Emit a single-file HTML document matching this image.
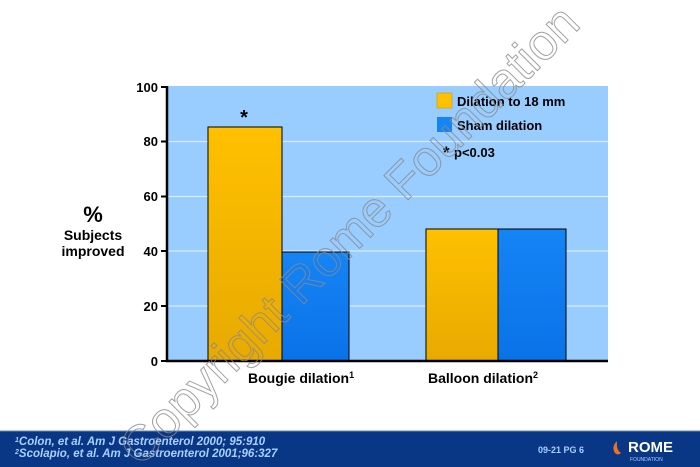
<!DOCTYPE html>
<html><head><meta charset="utf-8"><style>
body{margin:0;width:700px;height:467px;background:#fff;position:relative;overflow:hidden;font-family:"Liberation Sans",sans-serif}
.a{position:absolute}
</style></head><body>
<svg class="a" style="left:0;top:0" width="700" height="467">
<defs>
<linearGradient id="g" x1="0" y1="0" x2="0" y2="1"><stop offset="0" stop-color="#ffc000"/><stop offset="1" stop-color="#e8aa00"/></linearGradient>
<linearGradient id="b" x1="0" y1="0" x2="0" y2="1"><stop offset="0" stop-color="#1584f5"/><stop offset="1" stop-color="#0a72e8"/></linearGradient>
</defs>
<rect x="167" y="86" width="441" height="275" fill="#99ccff"/>
<g stroke="#d8ecff" stroke-width="1.2">
<line x1="167" x2="608" y1="141.5" y2="141.5"/><line x1="167" x2="608" y1="196.5" y2="196.5"/>
<line x1="167" x2="608" y1="251" y2="251"/><line x1="167" x2="608" y1="306" y2="306"/>
</g>
<g stroke="#000" stroke-width="1">
<rect x="208" y="127" width="74" height="234" fill="url(#g)"/>
<rect x="282" y="252" width="67" height="109" fill="url(#b)"/>
<rect x="426" y="229" width="72" height="132" fill="url(#g)"/>
<rect x="498" y="229" width="68" height="132" fill="url(#b)"/>
</g>
<line x1="167" y1="86" x2="167" y2="362" stroke="#000" stroke-width="2.5"/>
<line x1="166" y1="361" x2="608" y2="361" stroke="#000" stroke-width="2.5"/>
<g stroke="#000" stroke-width="2">
<line x1="161" x2="167" y1="87" y2="87"/><line x1="161" x2="167" y1="141.5" y2="141.5"/><line x1="161" x2="167" y1="196.5" y2="196.5"/><line x1="161" x2="167" y1="251" y2="251"/><line x1="161" x2="167" y1="306" y2="306"/><line x1="161" x2="167" y1="361" y2="361"/>
</g>
<g font-family="Liberation Sans" font-weight="bold" font-size="13" text-anchor="end" fill="#000">
<text x="158" y="92">100</text><text x="158" y="146">80</text><text x="158" y="201">60</text><text x="158" y="256">40</text><text x="158" y="311">20</text><text x="158" y="366">0</text>
</g>
<text x="244" y="124" font-size="20" font-weight="bold" text-anchor="middle">*</text>
<rect x="437" y="93" width="15" height="15" fill="#ffc000" stroke="#c89000" stroke-width="0.5"/>
<rect x="437" y="117" width="15" height="15" fill="#1584f5"/>
<g font-family="Liberation Sans" font-weight="bold" font-size="13" fill="#000">
<text x="457" y="106">Dilation to 18 mm</text>
<text x="457" y="130">Sham dilation</text>
<text x="443" y="158" font-size="17">*</text>
<text x="454" y="157">p&lt;0.03</text>
<text x="248" y="383" font-size="14">Bougie dilation<tspan font-size="9" dy="-5">1</tspan></text>
<text x="428" y="383" font-size="14">Balloon dilation<tspan font-size="9" dy="-5">2</tspan></text>
<text x="93" y="222" font-size="22" text-anchor="middle">%</text>
<text x="93" y="240" font-size="14" text-anchor="middle">Subjects</text>
<text x="93" y="256" font-size="14" text-anchor="middle">improved</text>
</g>
<rect x="0" y="431" width="700" height="36" fill="#0a3686"/>
<line x1="0" x2="700" y1="431" y2="431" stroke="#6a87b8" stroke-width="1"/>
<g font-family="Liberation Sans" font-style="italic" font-weight="bold" font-size="11.5" fill="#a8d0ff">
<text x="15" y="445"><tspan font-size="7" dy="-3">1</tspan><tspan dy="3">Colon, et al. Am J Gastroenterol 2000; 95:910</tspan></text>
<text x="15" y="457"><tspan font-size="7" dy="-3">2</tspan><tspan dy="3">Scolapio, et al. Am J Gastroenterol 2001;96:327</tspan></text>
</g>
<text x="538" y="453" font-family="Liberation Sans" font-weight="bold" font-size="9" fill="#a8d0ff">09-21  PG 6</text>
<path d="M617 441 q-6 6 -2 12 q3 3 6 0 q-5 -3 -4 -12z" fill="#f07020"/>
<text x="628" y="452" font-family="Liberation Sans" font-weight="bold" font-size="15" fill="#fff">ROME</text>
<text x="630" y="461" font-family="Liberation Sans" font-size="5" fill="#a8d0ff">FOUNDATION</text>
<text x="0" y="0" transform="translate(140,468) rotate(-45)" font-family="Liberation Sans" font-size="50" fill="none" stroke="#8a8a8a" stroke-width="1" opacity="0.8">Copyright Rome Foundation</text>
</svg>
</body></html>
